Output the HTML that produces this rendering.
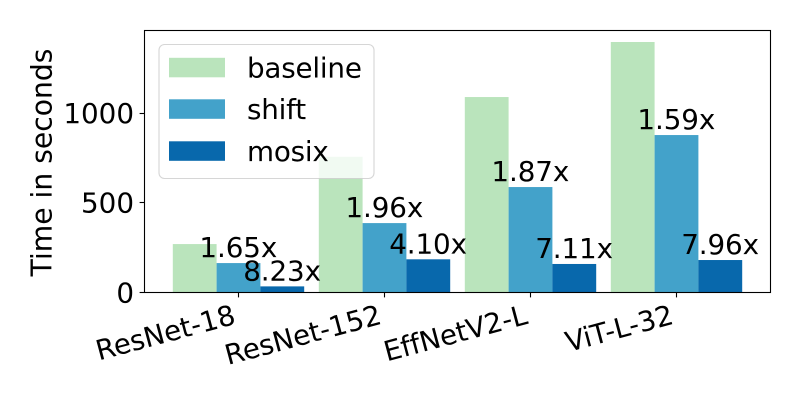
<!DOCTYPE html>
<html>
<head>
<meta charset="utf-8">
<title>Time in seconds by model</title>
<style>
html,body{margin:0;padding:0;background:#fff;}
svg{display:block;}
text{font-family:"DejaVu Sans","Liberation Sans",sans-serif;font-size:27.78px;fill:#000;}
</style>
</head>
<body>
<svg id="chart" xmlns="http://www.w3.org/2000/svg" width="800" height="400" viewBox="0 0 800 400">
  <rect x="0" y="0" width="800" height="400" fill="#ffffff"/>
  <g id="bars"></g>
  <g id="labels"></g>
  <g id="yaxis"></g>
  <g id="xaxis"></g>
  <rect x="144.5" y="30.5" width="626" height="262" fill="none" stroke="#000" stroke-width="1.1"/>
  <text transform="translate(51.5,162.5) rotate(-90)" text-anchor="middle" style="font-size:28.2px">Time in seconds</text>
  <g id="legend">
    <rect x="159" y="44.5" width="215" height="134" rx="5.5" ry="5.5" fill="#ffffff" fill-opacity="0.8" stroke="#cccccc" stroke-opacity="0.8" stroke-width="1.1"/>
  </g>
</svg>
<script>
const categories = ["ResNet-18", "ResNet-152", "EffNetV2-L", "ViT-L-32"];
const seriesNames = ["baseline", "shift", "mosix"];
const baseline = [269, 756, 1089, 1396];
const shift = [163, 386, 587, 877];
const mosix = [33, 184, 158, 180];
const shiftLabels = ["1.65x", "1.96x", "1.87x", "1.59x"];
const mosixLabels = ["8.23x", "4.10x", "7.11x", "7.96x"];
const yTicks = [0, 500, 1000];

const NS = "http://www.w3.org/2000/svg";
const colors = ["#bae4bc", "#43a2ca", "#0868ac"];
const barWidth = 43.8;
function xScale(i) { return 238.3 + 146 * i; }
function yScale(v) { return 292.3 - 0.1793 * v; }
function make(tag, attrs, parent, content) {
  const el = document.createElementNS(NS, tag);
  for (const k in attrs) el.setAttribute(k, attrs[k]);
  if (content !== undefined) el.textContent = content;
  parent.appendChild(el);
  return el;
}

const barsGroup = document.getElementById("bars");
const labelsGroup = document.getElementById("labels");
const yGroup = document.getElementById("yaxis");
const xGroup = document.getElementById("xaxis");
const legendGroup = document.getElementById("legend");
const allSeries = [baseline, shift, mosix];

allSeries.forEach(function (values, s) {
  values.forEach(function (v, i) {
    const cx = xScale(i) + (s - 1) * barWidth;
    const bar = make("rect", {
      x: cx - barWidth / 2 + 0.2,
      y: yScale(v),
      width: barWidth,
      height: yScale(0) - yScale(v),
      fill: colors[s]
    }, barsGroup);
    
    
  });
});

[[shift, shiftLabels, 0], [mosix, mosixLabels, 1]].forEach(function (entry) {
  entry[0].forEach(function (v, i) {
    const t = make("text", {
      x: xScale(i) + entry[2] * barWidth,
      y: yScale(v) - 6,
      "text-anchor": "middle"
    }, labelsGroup, entry[1][i]);
    
    
    t.style.letterSpacing = '-0.1px';
  });
});

yTicks.forEach(function (v) {
  const y = Math.round(yScale(v) - 0.5) + 0.5;
  const tick = make("line", { x1: 139.6, x2: 144.5, y1: y, y2: y, stroke: "#000", "stroke-width": 1.1 }, yGroup);
  
  
  const label = make("text", { x: 134, y: yScale(v) + 10, "text-anchor": "end" }, yGroup, String(v));
  
  
});

categories.forEach(function (c, i) {
  const x = Math.round(xScale(i) - 0.5) + 0.5;
  const tick = make("line", { x1: x, x2: x, y1: 292.5, y2: 297.4, stroke: "#000", "stroke-width": 1.1 }, xGroup);
  
  
  const label = make("text", {
    transform: "translate(" + (xScale(i) - 1.5) + ",323.5) rotate(-15)",
    "text-anchor": "end"
  }, xGroup, c);
  
  
  label.style.letterSpacing = '-0.1px';
});

const legendRowY = [67.5, 109, 151];
seriesNames.forEach(function (name, s) {
  const swatch = make("rect", { x: 169, y: legendRowY[s] - 9.7, width: 56, height: 19.5, fill: colors[s] }, legendGroup);
  
  
  const label = make("text", { x: 247, y: legendRowY[s] + 10, "text-anchor": "start" }, legendGroup, name);
  
  
  label.style.letterSpacing = '-0.2px';
});
</script>
</body>
</html>
